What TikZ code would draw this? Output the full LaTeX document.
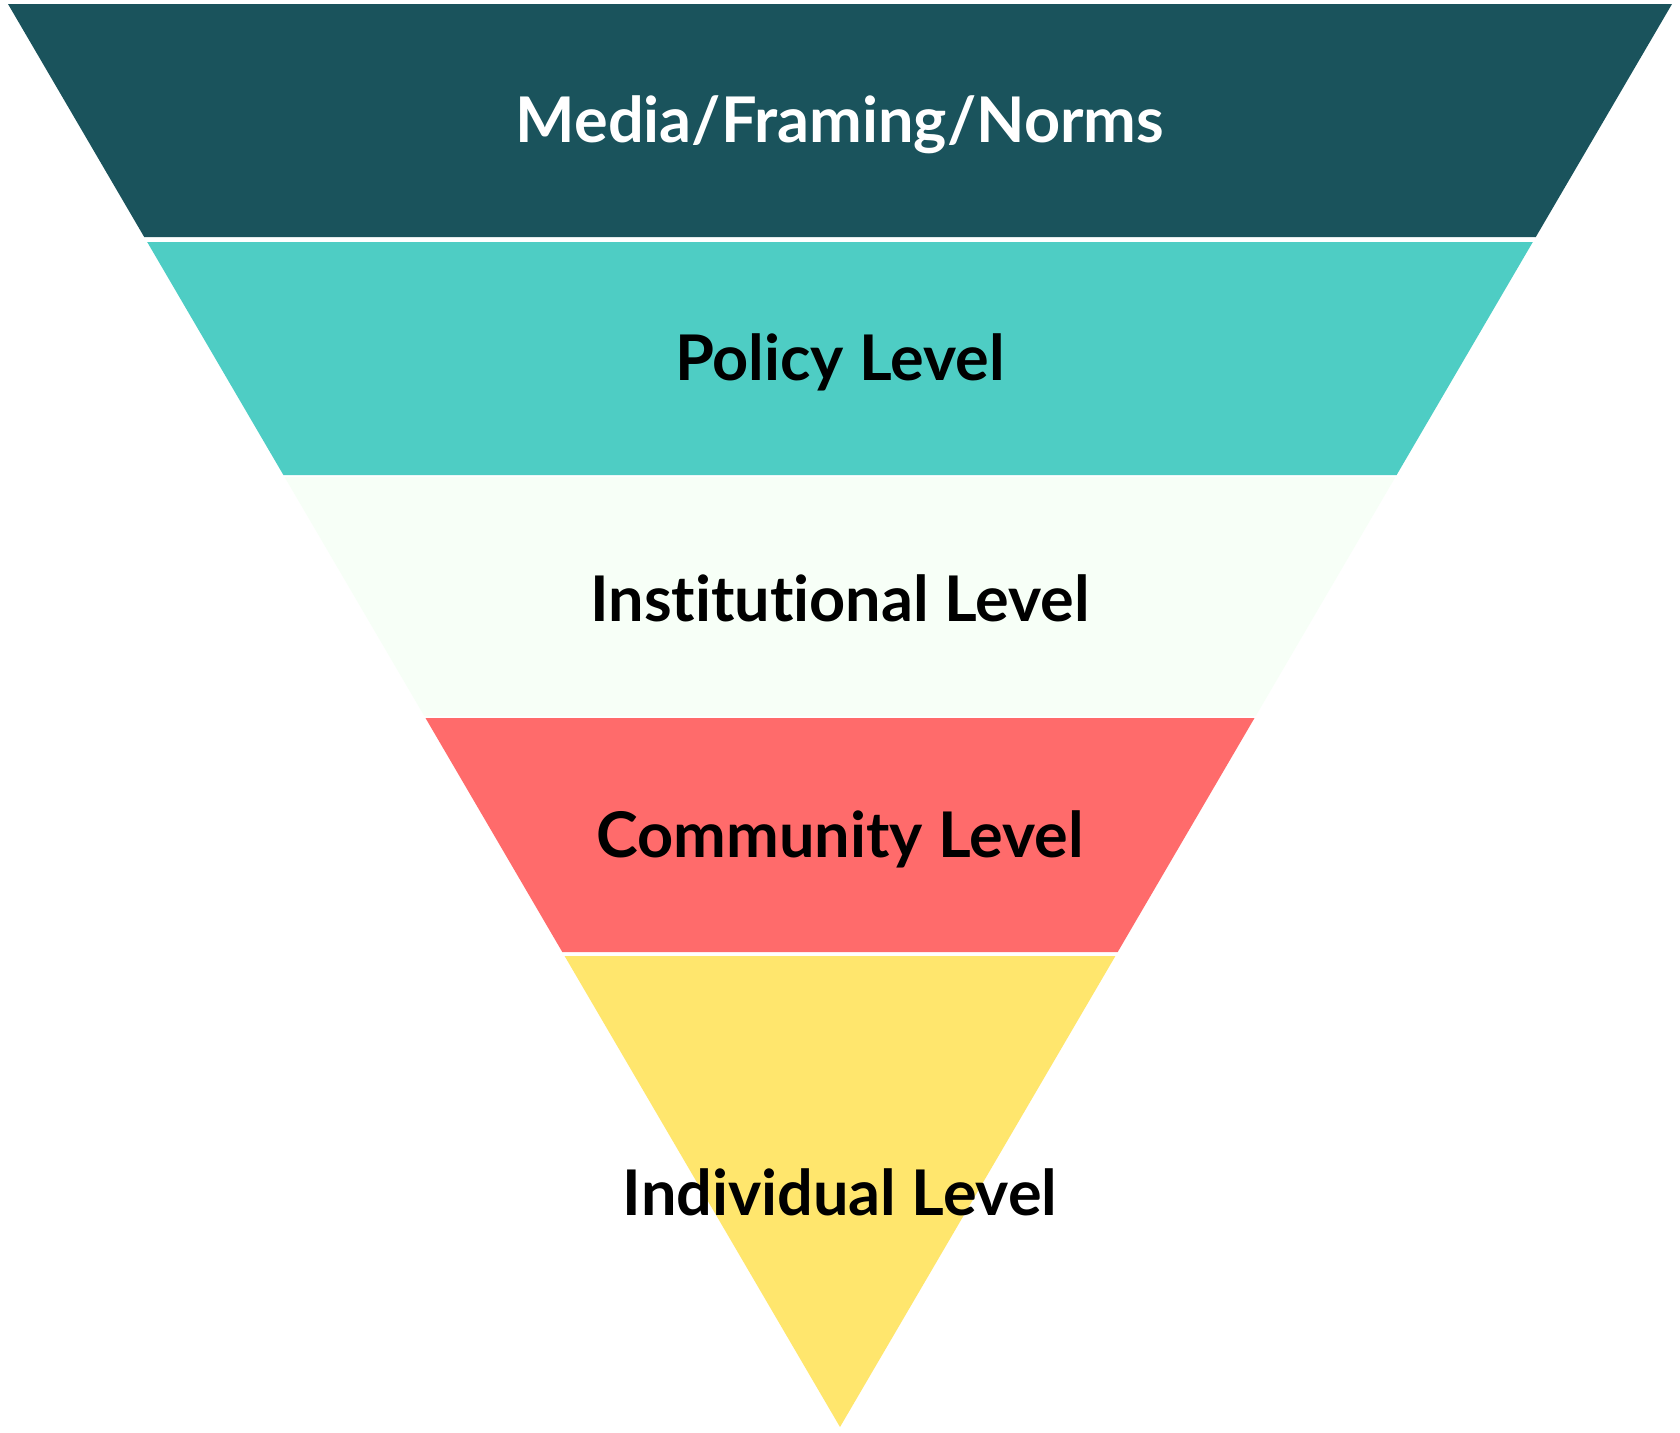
\documentclass[tikz,border=0pt]{standalone}
\usepackage{fontspec}
\setmainfont{Lato}[UprightFont=* Bold, RawFeature={-liga}]
\definecolor{cA}{HTML}{1A535C}
\definecolor{cB}{HTML}{4ECDC4}
\definecolor{cC}{HTML}{F7FFF7}
\definecolor{cD}{HTML}{FF6B6B}
\definecolor{cE}{HTML}{FFE66D}
\begin{document}
\begin{tikzpicture}[x=1pt,y=-1pt,
  lbl/.style={font=\fontsize{63}{70}\selectfont, text=black, inner sep=0pt, anchor=center}]
\useasboundingbox (0,0) rectangle (1680,1432);
\fill[white] (0,0) rectangle (1680,1432);
\fill[cA] (8,4) -- (1672,4) -- (1535.8,237) -- (144.2,237) -- cycle;
\fill[cB] (147.2,242) -- (1532.8,242) -- (1396.6,475) -- (283.4,475) -- cycle;
\fill[cC] (284.6,477) -- (1395.4,477) -- (1255.7,716) -- (424.3,716) -- cycle;
\fill[cD] (425.5,718) -- (1254.5,718) -- (1117.7,952) -- (562.3,952) -- cycle;
\fill[cE] (564.6,956) -- (1115.4,956) -- (840,1427) -- cycle;
\node[lbl, text=white] (media) at (840,125) {Media/Framing/Norms};
\node[lbl] (policy) at (840,362) {Policy Level};
\node[lbl] (inst) at (840,598) {Institutional Level};
\node[lbl] (comm) at (840,839) {Community Level};
\node[lbl] (indiv) at (840,1192) {Individual Level};
\end{tikzpicture}
\end{document}
